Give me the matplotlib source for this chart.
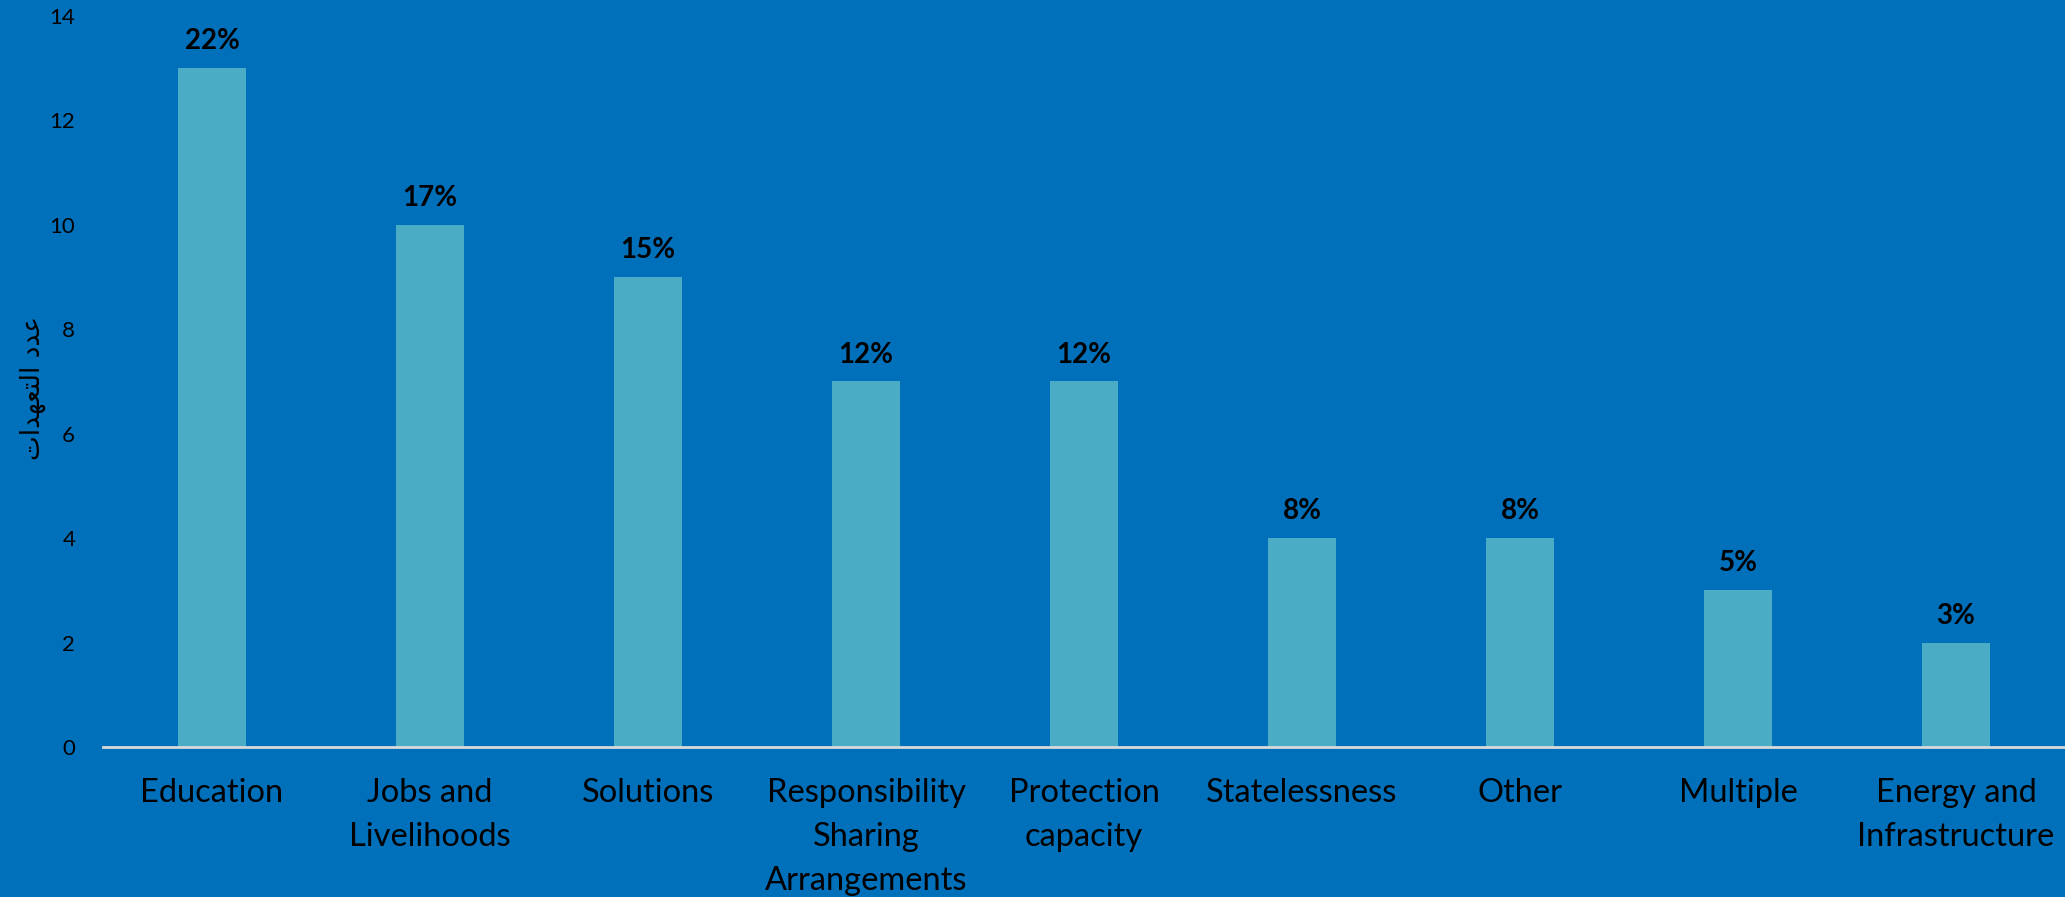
import matplotlib.pyplot as plt

plt.rcParams['font.family'] = ['Lato', 'DejaVu Sans']

categories = ["Education", "Jobs and\nLivelihoods", "Solutions",
              "Responsibility\nSharing\nArrangements", "Protection\ncapacity",
              "Statelessness", "Other", "Multiple", "Energy and\nInfrastructure"]
counts = [13, 10, 9, 7, 7, 4, 4, 3, 2]
shares = ["22%", "17%", "15%", "12%", "12%", "8%", "8%", "5%", "3%"]
yticks = [0, 2, 4, 6, 8, 10, 12, 14]
# "عدد التعهدات" written in shaped presentation forms, visual order
ylabel = "\uFE95\uFE8D\uFEAA\uFEEC\uFECC\uFE98\uFEDF\uFE8D \uFEA9\uFEAA\uFECB"

bg = "#0070BA"
fig = plt.figure(figsize=(20.65, 8.97), dpi=100, facecolor=bg)
ax = fig.add_axes([103/2065, 150/897, 1962/2065, 731/897])
ax.set_facecolor(bg)

x = range(len(categories))
bars = ax.bar(x, counts, width=0.31, color="#4BACC6", zorder=2)
for b, s in zip(bars, shares):
    ax.annotate(s, (b.get_x() + b.get_width()/2, b.get_height()),
                xytext=(0, 10), textcoords="offset points",
                ha="center", va="bottom", fontsize=20, fontweight="bold", color="black")

ax.set_xlim(-0.5, len(categories) - 0.5)
ax.set_ylim(0, 14)
ax.set_yticks(yticks)
ax.set_xticks(list(x))
ax.set_xticklabels(categories, fontsize=23.5, color="black", linespacing=1.6)
ax.tick_params(axis="y", labelsize=16, colors="black", length=0, pad=20)
ax.tick_params(axis="x", length=0, pad=22)

for side in ["top", "right", "left"]:
    ax.spines[side].set_visible(False)
ax.spines["bottom"].set_color("#D9D9D9")
ax.spines["bottom"].set_linewidth(2)

fig.text(33/2065, 1 - 388/897, ylabel, rotation=90, ha="center", va="center",
         fontsize=19, color="black", family=["DejaVu Sans"])

fig.savefig("out.png", dpi=100, facecolor=bg)
